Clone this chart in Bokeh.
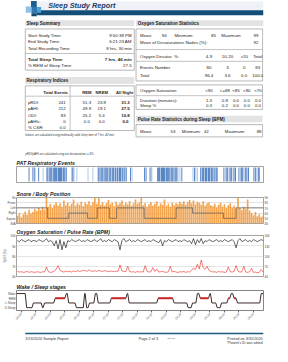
import math
from bokeh.plotting import figure
from bokeh.layouts import column
from bokeh.models import Range1d, ColumnDataSource, LinearAxis, FixedTicker, CustomJSTickFormatter
from bokeh.embed import file_html
from bokeh.resources import INLINE
from bokeh.core.properties import value

FONT = "Liberation Sans"

# ---------------- data ----------------
report_title = "Sleep Study Report"
section_titles = ["Sleep Summary", "Oxygen Saturation Statistics", "Respiratory Indices",
                  "Pulse Rate Statistics during Sleep (BPM)"]
summary_labels = ["Start Study Time:", "End Study Time:", "Total Recording Time:"]
summary_values = ["9:50:38 PM", "6:21:23 AM", "8 hrs, 30 min"]
sleep_labels = ["Total Sleep Time", "% REM of Sleep Time:"]
sleep_values = ["7 hrs, 46 min", "27.5"]

resp_header = ["Total Events", "REM", "NREM", "All Night"]
resp_rows = ["pRDI:", "pAHI:", "ODI:", "pAHIc:", "% CSR:"]
resp_total = ["241", "212", "83", "0", "0.0"]
resp_rem = ["51.3", "49.9", "25.2", "0.0", ""]
resp_nrem = ["23.8", "19.1", "5.4", "0.0", ""]
resp_all = ["31.3", "27.5", "10.8", "0.0", ""]
footnotes = ["Indices are calculated using technically valid sleep time of 7 hrs, 42 min.",
             "pRDI/pAHI are calculated using oxi desaturations \u2265 3%."]

spo2_stat_labels = ["Mean:", "Minimum:", "Maximum:"]
spo2_stat_values = ["94", "85", "99"]
nadir_label = "Mean of Desaturations Nadirs (%):"
nadir_value = "92"
desat_title = "Oxygen Desatur. %:"
desat_header = ["4-9", "10-20", ">20", "Total"]
desat_rows = ["Events Number", "Total"]
desat_events = ["80", "3", "0", "83"]
desat_pct = ["96.4", "3.6", "0.0", "100.0"]
sat_title = "Oxygen Saturation"
sat_header = ["<90", "<=88", "<85", "<80", "<70"]
sat_rows = ["Duration (minutes):", "Sleep %"]
sat_duration = ["1.3", "0.8", "0.0", "0.0", "0.0"]
sat_sleep_pct = ["0.3", "0.2", "0.0", "0.0", "0.0"]
pulse_labels = ["Mean:", "Minimum:", "Maximum:"]
pulse_values = ["53", "42", "88"]

footer_left = "3/13/2020 Sample Report"
footer_mid = "Page 2 of 3"
footer_tag = "Rev 000"
footer_right = "Printed on 3/31/2020"
footer_note = "*Patient's ID was edited"

chart_titles = ["PAT Respiratory Events", "Snore / Body Position",
                "Oxygen Saturation / Pulse Rate (BPM)", "Wake / Sleep stages"]

STUDY_START = "21:50:38"
TOTAL_MIN = 510.75          # 9:50:38 PM -> 6:21:23 AM

# PAT respiratory events: start minute and kind (A = apnea/hypopnea, R = RERA)
pat_event_min = [25, 33, 35, 37, 45, 54,
                 62, 64, 66, 68, 70, 72, 74, 76, 78, 80, 82, 84, 86, 88, 90, 92, 94, 96, 98, 100, 102,
                 114, 116, 118, 124, 147, 157,
                 168, 170, 172, 174, 176, 178, 180, 182, 184, 186, 188, 190, 192, 194, 196, 198,
                 200, 202, 204, 206, 208, 210, 212, 214, 216, 218, 220, 222, 224, 226,
                 235, 238, 264, 267, 274, 277, 279,
                 291, 293, 295, 297, 299, 301, 303, 305, 307, 309, 311, 313, 315, 317, 319, 321,
                 323, 325, 327, 329, 331, 333,
                 337, 341, 364, 367, 370, 373,
                 380, 382, 384, 386, 388, 390, 392, 394, 396, 398, 400, 402, 404, 406, 408, 410, 412, 414,
                 428, 431, 434, 436, 439, 441, 444, 447, 449, 452,
                 459, 462, 464, 466, 469, 472, 474, 477, 479,
                 490, 493, 496, 499, 501]
pat_event_kind = ["A", "A", "R", "A", "A", "R",
                  "A", "A", "R", "A", "A", "A", "R", "A", "A", "A", "A", "R", "A", "A", "A", "A", "R", "A", "A", "R", "A",
                  "A", "A", "R", "R", "R", "R",
                  "A", "A", "R", "A", "A", "A", "R", "A", "A", "A", "A", "R", "A", "A", "R", "A",
                  "A", "R", "A", "R", "A", "R", "A", "A", "R", "A", "R", "A", "R", "A",
                  "A", "R", "A", "A", "R", "A", "R",
                  "A", "A", "A", "R", "A", "A", "A", "A", "R", "A", "A", "A", "A", "R", "A", "A",
                  "A", "R", "A", "A", "A", "R",
                  "R", "A", "R", "A", "R", "R",
                  "A", "R", "A", "A", "R", "A", "A", "R", "A", "A", "R", "A", "A", "R", "A", "R", "A", "A",
                  "A", "R", "A", "A", "R", "A", "A", "R", "A", "A",
                  "A", "R", "A", "A", "R", "A", "A", "R", "A",
                  "A", "A", "R", "A", "A"]

# 4-minute epochs: snore level (dB), SpO2 (%), pulse rate (BPM)
snore_db = [55, 60, 52, 58, 63, 57, 66, 59, 62, 68,
            64, 70, 66, 72, 67, 90,
            72, 78, 70, 76, 81, 74, 79, 72, 84,
            75, 80, 73, 78, 86, 74, 79, 76, 82, 73, 80, 77, 83, 75, 81,
            89, 78, 90,
            76, 81, 74, 79, 85, 77, 80, 73, 82, 76, 79, 84, 75, 80, 77, 83, 74, 79, 86, 78, 81,
            90,
            75, 79, 72, 77, 81, 74, 78, 83, 73, 79, 76, 86, 74, 78, 72, 80, 75, 79, 77, 82,
            78, 83, 76, 81, 85, 79, 84, 77, 82, 80, 76, 83, 74, 79, 81, 75,
            73, 78, 71, 76, 80, 72, 77, 70, 75, 79, 71, 74, 69,
            90,
            70, 66, 72, 68, 86, 65,
            60, 56, 62, 54, 58, 52, 55]
spo2 = [95, 94, 96, 95, 94, 95, 96, 94, 95, 95,
        94, 96, 95, 94, 95, 97, 94, 95, 94,
        90, 95, 87, 96, 86, 94, 88, 95,
        94, 96, 95, 94, 95, 96, 94, 95, 94, 96, 95, 94, 95,
        96, 94, 95, 97, 94, 95, 94, 96, 95, 94, 96, 95, 94,
        86,
        95, 97, 94, 95, 96, 94, 95, 94, 96, 95, 94, 95, 96, 94, 95, 94, 96,
        95, 94, 93, 96, 90, 95, 94, 96, 95,
        94, 95, 96, 94, 95, 94, 96, 95, 94, 95,
        92, 97, 91, 96, 93, 97, 92, 95,
        94, 96, 95, 94, 95, 96, 94, 95, 94, 96, 95, 94, 95, 96, 94,
        88,
        95, 97, 94, 95, 96, 94, 95, 94, 96, 95, 94, 95, 96, 95]
pulse = [55, 53, 54, 52, 53, 55, 52, 54, 53, 52,
         54, 53, 52, 54, 53, 68, 54, 52, 53, 55,
         62, 72, 58, 55, 53, 56, 54, 55, 53, 56,
         54, 57, 55, 56, 58, 57, 55, 60, 56, 55,
         57, 55, 58, 56, 55, 57, 56, 54, 56, 55,
         54, 56, 55, 74, 56, 55, 54, 70, 55, 53,
         54, 52, 55, 53, 54, 53, 72, 55, 53, 54,
         66, 55, 62, 53, 54, 55, 53, 52, 54, 70,
         53, 55, 53, 52, 54, 53, 55, 52, 54, 53,
         58, 65, 60, 76, 62, 88, 66, 61, 70, 58,
         55, 53, 54, 52, 55, 53, 54, 52, 53, 68,
         54, 53, 55, 72, 56, 53, 54, 70, 53, 52,
         54, 64, 52, 53, 51, 52, 60, 53]
EPOCH_MIN = 4

# body position changes (start minute, position)
body_start_min = [0, 64, 108, 147, 167, 192, 207, 264, 330, 364, 428, 454]
body_position = ["Left", "Supine", "Right", "Supine", "Left", "Supine", "Left", "Supine",
                 "Left", "Right", "Supine", "Left"]
body_axis_labels = ["N/A", "Supine", "Right", "Left", "Prone", "Sit"]
snore_db_ticks = [40, 50, 60, 70, 80, 90]

# sleep stages (start minute, stage)
stage_start_min = [0, 21, 35, 54, 58, 80, 103, 108, 124, 141, 145, 151, 163, 169, 196, 229, 233,
                   293, 326, 355, 364, 374, 380, 400, 404, 415, 424, 438, 444, 450, 457, 506]
stage_name = ["Wake", "D.Sleep", "L.Sleep", "D.Sleep", "L.Sleep", "REM", "Wake", "L.Sleep", "D.Sleep",
              "Wake", "D.Sleep", "L.Sleep", "Wake", "L.Sleep", "REM", "Wake", "L.Sleep",
              "REM", "L.Sleep", "D.Sleep", "L.Sleep", "Wake", "REM", "Wake", "L.Sleep", "D.Sleep",
              "L.Sleep", "REM", "Wake", "REM", "L.Sleep", "Wake"]
stage_axis_labels = ["D.Sleep", "L.Sleep", "REM", "Wake"]

spo2_ticks = [60, 70, 80, 90, 100]
pulse_ticks = [40, 70, 100, 130, 160]
time_tick_labels = ["22:00", "22:30", "23:00", "23:30", "00:00", "00:30", "01:00", "01:30", "02:00",
                    "02:30", "03:00", "03:30", "04:00", "04:30", "05:00", "05:30", "06:00"]

# ---------------- styles ----------------
TXT = "#222222"
BOX = "#9a9a9a"
BAND = "#e3e3e3"
BODY = "4.4px"
HEAD = "4.5px"


def put(p, xs, ys, texts, size=BODY, align="left", style="normal", color=TXT):
    src = ColumnDataSource(dict(x=list(xs), y=list(ys), text=list(texts)))
    p.text(x="x", y="y", text="text", source=src, text_font=value(FONT), text_font_size=value(size),
           text_align=align, text_baseline="middle", text_font_style=style, text_color=color)


def blank(w, h, xr, yr):
    p = figure(width=w, height=h, x_range=xr, y_range=yr, output_backend="svg", toolbar_location=None,
               x_axis_location=None, y_axis_location=None, min_border=0)
    p.min_border_left = p.min_border_right = p.min_border_top = p.min_border_bottom = 0
    p.outline_line_color = None
    p.grid.visible = False
    return p


# ---------------- top: header + tables ----------------
A = blank(272, 157, Range1d(7, 288), Range1d(167, 7))

# header bar and logo
A.quad(left=[30], right=[288], top=[8], bottom=[17], fill_color="#eef2f6", line_color=None)
A.quad(left=[30], right=[288], top=[17], bottom=[22], fill_color="#134e78", line_color=None)
A.quad(left=[17.5, 23.5, 24, 30.5, 24], right=[24, 30, 30.5, 35, 30],
       top=[13, 7.5, 13, 13.5, 20], bottom=[19.5, 13.5, 20, 19.5, 23],
       fill_color=["#8cc1e9", "#1d5d8b", "#2f79b0", "#4aa3d8", "#16466b"], line_color=None)
put(A, [43], [12.3], [report_title], size="7.3px", style="bold italic", color="#1b3b6b")

# section bands
A.quad(left=[17, 143, 17, 143], right=[141, 288, 141, 287], top=[27, 27, 85, 124.5],
       bottom=[33, 33, 92, 131], fill_color=BAND, line_color=None)
put(A, [18.5, 145, 18.5, 145], [30, 30, 88.5, 127.8], section_titles, size=HEAD, style="bold")

# boxes
A.quad(left=[17, 17, 143, 143, 143], right=[141, 141, 287, 287, 287],
       top=[36, 94, 36, 93, 133.5], bottom=[78, 139.5, 89, 118, 146],
       fill_color=None, line_color=BOX, line_width=0.7)
A.segment(x0=[17, 68, 17, 143, 143, 143], y0=[61, 94, 104.5, 57, 69, 104],
          x1=[141, 68, 141, 287, 287, 287], y1=[61, 139.5, 104.5, 57, 69, 104],
          line_color=BOX, line_width=0.6)

# sleep summary
sum_y = [42.5, 49, 55.5]
put(A, [20] * 3, sum_y, summary_labels)
put(A, [138] * 3, sum_y, summary_values, align="right")
put(A, [20], [67.5], sleep_labels[:1], style="bold")
put(A, [138], [67.5], sleep_values[:1], align="right", style="bold")
put(A, [20], [73.5], sleep_labels[1:])
put(A, [138], [73.5], sleep_values[1:], align="right")

# respiratory indices
put(A, [65.5], [100.5], resp_header[:1], align="right", style="bold", size="4.2px")
put(A, [87, 104, 130], [100.5] * 3, resp_header[1:], align="center", style="bold", size="4.2px")
resp_y = [110.5, 117.2, 123.9, 130.4, 136.3]
put(A, [20] * 5, resp_y, resp_rows)
put(A, [63] * 5, resp_y, resp_total, align="right")
put(A, [87] * 5, resp_y, resp_rem, align="center")
put(A, [104] * 5, resp_y, resp_nrem, align="center")
put(A, [131] * 5, resp_y, resp_all, align="center", style="bold")
put(A, [17, 17], [144, 162.5], footnotes, size="2.8px", style="italic", color="#333333")

# oxygen saturation statistics
put(A, [147.5, 186.7, 240], [43] * 3, spo2_stat_labels)
put(A, [175, 231, 279.5], [43] * 3, spo2_stat_values, align="center")
put(A, [147.5], [49.5], [nadir_label])
put(A, [279.5], [49.5], [nadir_value], align="center")
desat_x = [226, 247, 266, 281.5]
put(A, [147.5], [64.5], [desat_title])
put(A, desat_x, [64.5] * 4, desat_header, align="center")
put(A, [147.5, 147.5], [75.5, 83.5], desat_rows)
put(A, desat_x, [75.5] * 4, desat_events, align="center")
put(A, desat_x, [83.5] * 4, desat_pct, align="center")
sat_x = [226, 244, 256.7, 269, 281.7]
put(A, [147.5], [99], [sat_title])
put(A, sat_x, [99] * 5, sat_header, align="center")
put(A, [147.5, 147.5], [108.7, 114.2], sat_rows)
put(A, sat_x, [108.7] * 5, sat_duration, align="center")
put(A, sat_x, [114.2] * 5, sat_sleep_pct, align="center")

# pulse
put(A, [147.5, 195, 244], [140] * 3, pulse_labels)
put(A, [185, 223, 283], [140] * 3, pulse_values, align="center")


# ---------------- charts ----------------
def chart(h, top, bottom, title, xaxis=False, yaxis=False, **kw):
    p = figure(width=272, height=h, x_range=Range1d(0, TOTAL_MIN), output_backend="svg",
               toolbar_location=None, title=title,
               x_axis_location="below" if xaxis else None,
               y_axis_location="left" if yaxis else None, **kw)
    p.min_border_left = 13
    p.min_border_right = 6
    p.min_border_top = top
    p.min_border_bottom = bottom
    p.title.text_font = FONT
    p.title.text_font_size = "5.2px"
    p.title.text_font_style = "bold italic"
    p.title.text_color = "#222222"
    p.title.standoff = 1
    p.title.align = "left"
    p.outline_line_color = "#8c8c8c"
    p.outline_line_width = 0.8
    p.xgrid.visible = False
    return p


def style_axis(ax, size="3px"):
    ax.major_label_text_font = FONT
    ax.major_label_text_font_size = size
    ax.major_label_text_color = "#444444"
    ax.major_label_standoff = 1
    ax.major_tick_out = 0
    ax.major_tick_in = 0
    ax.minor_tick_out = 0
    ax.minor_tick_in = 0
    ax.axis_line_color = None
    ax.axis_label_text_font = FONT
    ax.axis_label_text_font_size = size
    ax.axis_label_text_font_style = "normal"
    ax.axis_label_text_color = "#444444"
    ax.axis_label_standoff = 1


def label_formatter(labels):
    return CustomJSTickFormatter(args=dict(labels=labels),
                                 code="const i = Math.round(tick); return (i >= 0 && i < labels.length) ? labels[i] : '';")


epoch_t = [EPOCH_MIN * i + EPOCH_MIN / 2 for i in range(len(snore_db))]

# PAT respiratory events
B = chart(31, 9, 6, chart_titles[0], y_range=Range1d(0, 1))
B.ygrid.visible = False
kind_color = {"A": "#3f74bd", "R": "#a3bfe5"}
B.quad(left=pat_event_min, right=[t + 1.8 for t in pat_event_min], bottom=0.07, top=0.93,
       fill_color=[kind_color[k] for k in pat_event_kind], line_color=None)

# snore / body position
C = chart(38, 9, 3, chart_titles[1], yaxis=True, y_range=Range1d(0, 5))
C.extra_y_ranges = {"db": Range1d(40, 90)}
C.vbar(x=epoch_t, width=EPOCH_MIN * 0.85, top=snore_db, bottom=40, y_range_name="db",
       fill_color="#f39b3d", fill_alpha=0.9, line_color=None)
pos_level = {n: i for i, n in enumerate(body_axis_labels)}
C.step(x=body_start_min + [TOTAL_MIN], y=[pos_level[b] for b in body_position] + [pos_level[body_position[-1]]],
       mode="after", line_color="#5a5a5a", line_width=0.7)
C.yaxis.ticker = FixedTicker(ticks=list(range(len(body_axis_labels))))
C.yaxis.formatter = label_formatter(body_axis_labels)
style_axis(C.yaxis[0])
C.ygrid.grid_line_color = "#c4c4c4"
C.ygrid.grid_line_width = 0.5
ax_db = LinearAxis(y_range_name="db", ticker=FixedTicker(ticks=snore_db_ticks))
style_axis(ax_db)
C.add_layout(ax_db, "right")

# SpO2 / pulse
D = chart(54, 9, 4, chart_titles[2], yaxis=True, y_range=Range1d(60, 100))
D.extra_y_ranges = {"pr": Range1d(40, 160)}
D.yaxis.ticker = FixedTicker(ticks=spo2_ticks)
D.yaxis.axis_label = "SpO2 (%)"
style_axis(D.yaxis[0])
D.ygrid.grid_line_color = "#c8c8c8"
D.ygrid.grid_line_width = 0.5
ax_pr = LinearAxis(y_range_name="pr", ticker=FixedTicker(ticks=pulse_ticks))
style_axis(ax_pr)
D.add_layout(ax_pr, "right")
D.line(x=epoch_t, y=pulse, y_range_name="pr", line_color="#e8281e", line_width=0.6)
D.line(x=epoch_t, y=spo2, line_color="#000000", line_width=0.6)

# sleep stages
E = chart(47, 10, 17, chart_titles[3], xaxis=True, yaxis=True, y_range=Range1d(-0.6, 3.65))
E.ygrid.visible = False
E.outline_line_color = "#666666"
lvl = {n: i for i, n in enumerate(stage_axis_labels)}
RAMP = 3
ends = stage_start_min[1:] + [TOTAL_MIN]
sx, sy, r0, r1 = [], [], [], []
for s, e, n in zip(stage_start_min, ends, stage_name):
    e2 = e if e >= TOTAL_MIN else e - RAMP
    sx += [s, e2]
    sy += [lvl[n], lvl[n]]
    if n == "REM":
        r0.append(s)
        r1.append(e2)
E.line(x=sx, y=sy, line_color="#3d2b2b", line_width=1.0)
E.segment(x0=r0, y0=[lvl["REM"]] * len(r0), x1=r1, y1=[lvl["REM"]] * len(r1),
          line_color="#cc2a2a", line_width=2.2)
E.yaxis.ticker = FixedTicker(ticks=list(range(len(stage_axis_labels))))
E.yaxis.formatter = label_formatter(stage_axis_labels)
style_axis(E.yaxis[0])

h0, m0, s0 = [int(v) for v in STUDY_START.split(":")]
start_min = h0 * 60 + m0 + s0 / 60


def clock_to_min(lbl):
    h, m = [int(v) for v in lbl.split(":")]
    t = h * 60 + m
    if t < start_min:
        t += 24 * 60
    return t - start_min


tick_pos = [clock_to_min(l) for l in time_tick_labels]
E.xaxis.ticker = FixedTicker(ticks=tick_pos)
E.xaxis.formatter = CustomJSTickFormatter(args=dict(pos=tick_pos, labels=time_tick_labels), code="""
let best = 0, d = Infinity;
for (let i = 0; i < pos.length; i++) { const dd = Math.abs(pos[i] - tick); if (dd < d) { d = dd; best = i; } }
return labels[best];
""")
style_axis(E.xaxis[0])
E.xaxis.major_label_orientation = math.pi / 4
E.xaxis.major_tick_out = 2
E.xaxis.major_tick_line_color = "#666666"

# ---------------- footer ----------------
F = blank(272, 19, Range1d(7, 288), Range1d(359, 340))
F.segment(x0=[17], y0=[346], x1=[288], y1=[346], line_color="#1f5a7a", line_width=1.3)
put(F, [17], [351], [footer_left], size="3.8px", color="#333333")
put(F, [157], [351], [footer_mid], size="3.8px", align="center", color="#333333")
put(F, [183], [350.5], [footer_tag], size="2px", align="center", color="#333333")
put(F, [287], [351], [footer_right], size="3.8px", align="right", color="#333333")
put(F, [287], [355.8], [footer_note], size="3.4px", align="right", color="#333333")

layout = column(A, B, C, D, E, F)
open("out.html", "w").write(file_html(layout, INLINE))
